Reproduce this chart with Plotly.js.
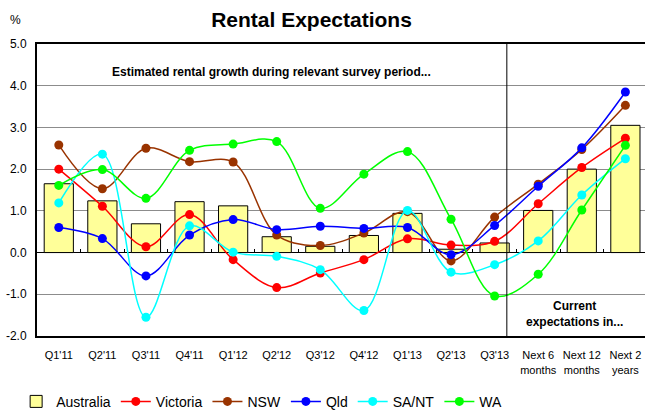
<!DOCTYPE html>
<html>
<head>
<meta charset="utf-8">
<script src="https://cdn.plot.ly/plotly-3.0.1.min.js"></script>
<style>html,body{margin:0;padding:0;background:#fff;}#chart{width:645px;height:410px;}</style>
</head>
<body>
<div id="chart"></div>
<script>
const categories = ["Q1'11","Q2'11","Q3'11","Q4'11","Q1'12","Q2'12","Q3'12","Q4'12","Q1'13","Q2'13","Q3'13","Next 6<br>months","Next 12<br>months","Next 2<br>years"];
const australia = [1.65,1.24,0.69,1.22,1.12,0.38,0.15,0.41,0.94,0.08,0.23,1.01,2.0,3.05];
const victoria  = [2.0,1.11,0.14,0.91,-0.17,-0.84,-0.49,-0.17,0.33,0.18,0.27,1.17,2.04,2.74];
const nsw       = [2.58,1.53,2.5,2.18,2.17,0.42,0.17,0.47,0.98,-0.2,0.85,1.64,2.47,3.53];
const qld       = [0.6,0.335,-0.56,0.42,0.79,0.55,0.63,0.58,0.6,-0.05,0.65,1.59,2.51,3.85];
const sant      = [1.19,2.36,-1.55,0.64,0.01,-0.09,-0.41,-1.39,1.01,-0.47,-0.29,0.28,1.38,2.25];
const wa        = [1.61,1.99,1.3,2.45,2.6,2.66,1.06,1.88,2.42,0.8,-1.04,-0.52,1.02,2.57];
const yTicks = [-2,-1,0,1,2,3,4,5];
const yTickText = ["-2.0","-1.0","0.0","1.0","2.0","3.0","4.0","5.0"];

const FONT = "Liberation Sans, Arial, sans-serif";

function lineTrace(name, y, color) {
  return {
    type: 'scatter', mode: 'lines+markers', name: name, x: categories, y: y,
    line: {color: color, width: 1.5, shape: 'spline', smoothing: 1},
    marker: {color: color, size: 9},
    cliponaxis: false
  };
}

const data = [
  {type: 'bar', name: 'Australia', x: categories, y: australia,
   marker: {color: '#FFFF99', line: {color: '#000000', width: 1}}, width: 0.67},
  lineTrace('Victoria', victoria, '#FF0000'),
  lineTrace('NSW', nsw, '#993300'),
  lineTrace('Qld', qld, '#0000FF'),
  lineTrace('SA/NT', sant, '#00FFFF'),
  lineTrace('WA', wa, '#00FF00'),
  {type: 'scatter', mode: 'none', x: categories, y: categories.map(() => null), xaxis: 'x2', showlegend: false, hoverinfo: 'skip'}
];

const layout = {
  width: 645, height: 410,
  margin: {l: 37, r: 0, t: 44, b: 74, autoexpand: false},
  paper_bgcolor: '#ffffff', plot_bgcolor: '#ffffff',
  font: {family: FONT, color: '#000000', size: 12},
  title: {text: '<b>Rental Expectations</b>', font: {family: FONT, size: 21, color: '#000'}, x: 0.483, xanchor: 'center', y: 0.953, yanchor: 'middle'},
  showlegend: true,
  legend: {orientation: 'h', xref: 'container', yref: 'container', x: 0.025, xanchor: 'left', y: 0.02, yanchor: 'middle', font: {family: FONT, size: 14}, traceorder: 'normal', itemwidth: 30},
  bargap: 0.33,
  xaxis: {
    type: 'category', range: [-0.5, 13.45], automargin: false,
    showline: true, linecolor: '#000', linewidth: 2, mirror: true,
    ticks: '', showgrid: false, zeroline: false,
    tickfont: {family: FONT, size: 11}, ticklabelstandoff: 8, fixedrange: true
  },
  xaxis2: {
    type: 'category', overlaying: 'x', matches: 'x', anchor: 'free', position: 2/7, side: 'bottom',
    showline: false, showgrid: false, zeroline: false, showticklabels: false,
    ticks: 'inside', ticklen: 4, tickcolor: '#000', tickwidth: 1, tickson: 'boundaries'
  },
  yaxis: {
    range: [-2, 5], tickvals: yTicks, ticktext: yTickText, automargin: false,
    showline: true, linecolor: '#000', linewidth: 2, mirror: false,
    showgrid: true, gridcolor: '#8c8c8c', gridwidth: 1,
    zeroline: true, zerolinecolor: '#000', zerolinewidth: 1.5,
    ticks: '', tickfont: {family: FONT, size: 12}, ticklabelstandoff: 6, fixedrange: true
  },
  shapes: [
    {type: 'line', xref: 'x', yref: 'paper', x0: 10.28, x1: 10.28, y0: 0, y1: 1, line: {color: '#000', width: 1}}
  ],
  annotations: [
    {text: '%', xref: 'paper', yref: 'paper', x: -0.035, y: 1.082, xanchor: 'center', yanchor: 'middle', showarrow: false, font: {family: FONT, size: 12}},
    {text: '<b>Estimated rental growth during relevant survey period...</b>', xref: 'x', yref: 'y', x: 4.89, y: 4.32, xanchor: 'center', yanchor: 'middle', showarrow: false, font: {family: FONT, size: 12}},
    {text: '<b>Current<br>expectations in...</b>', xref: 'x', yref: 'y', x: 11.83, y: -1.47, xanchor: 'center', yanchor: 'middle', showarrow: false, font: {family: FONT, size: 12}}
  ]
};

Plotly.newPlot('chart', data, layout, {displayModeBar: false, staticPlot: true});
</script>
</body>
</html>
